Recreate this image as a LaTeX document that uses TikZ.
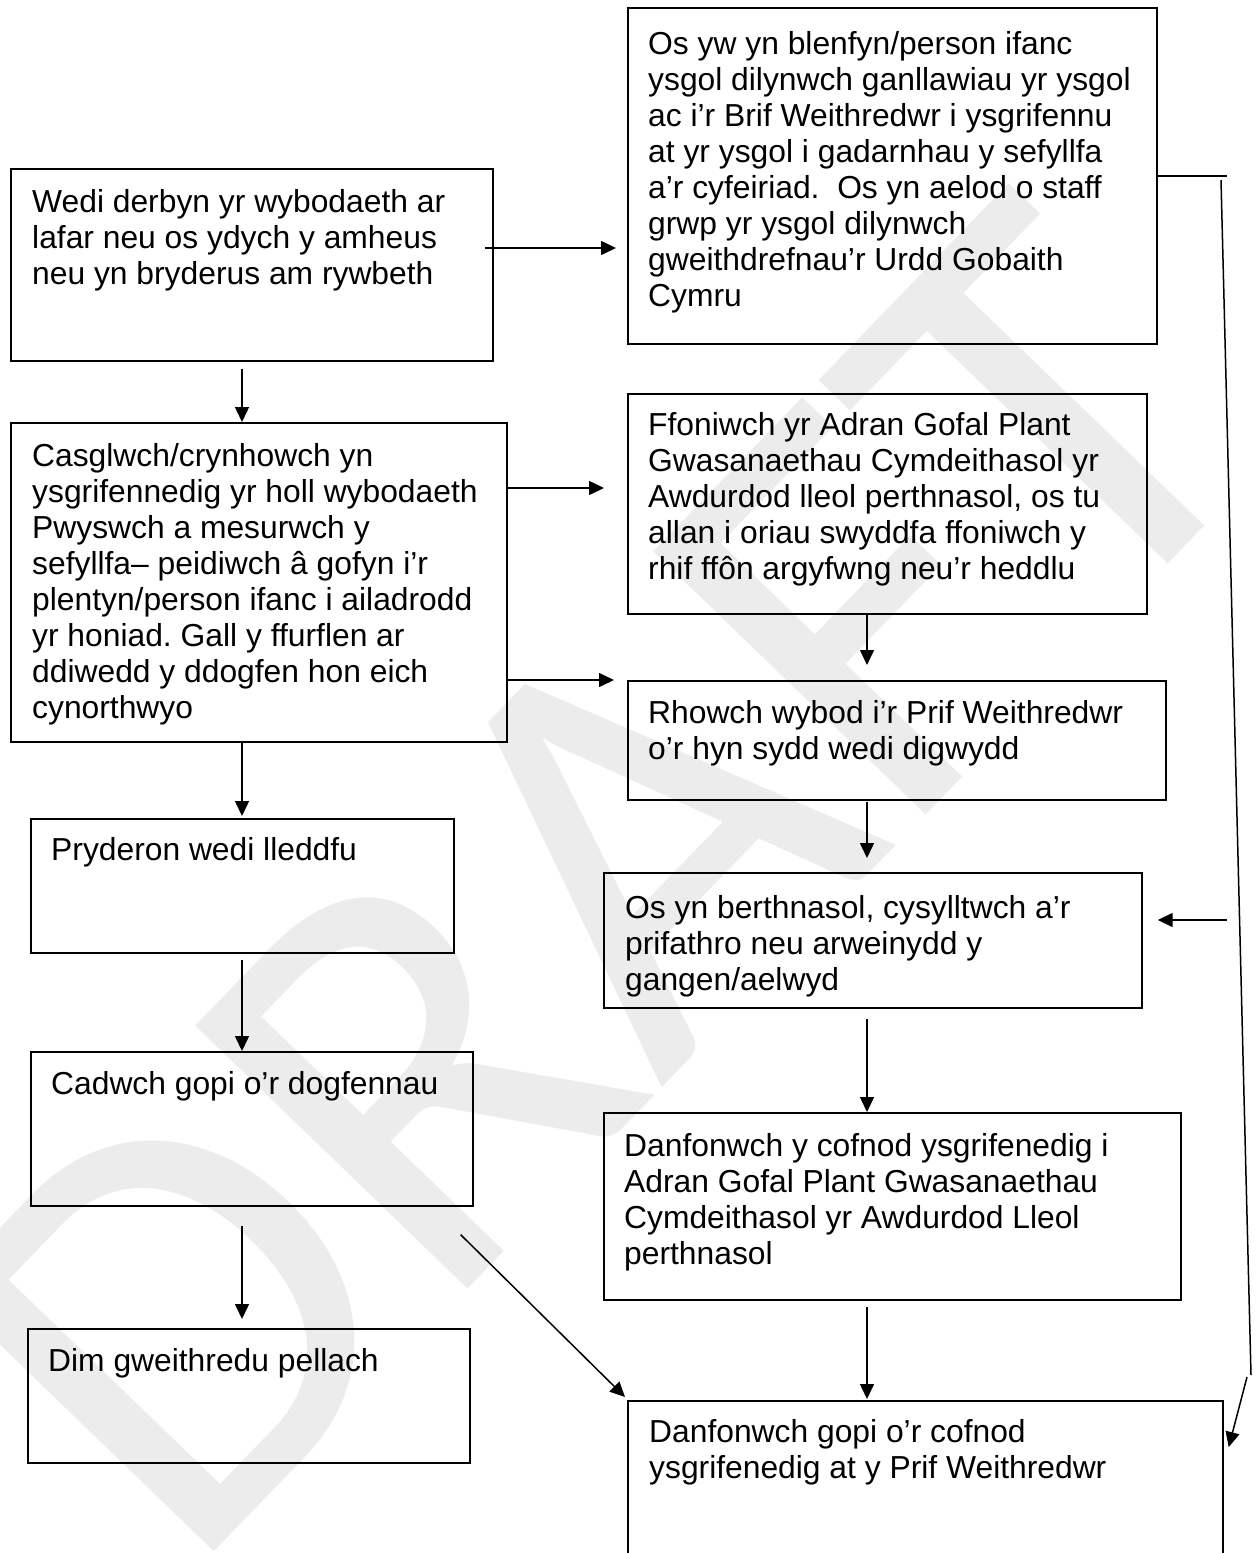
\documentclass[tikz,border=0pt]{standalone}
\usepackage{fontspec}
\setmainfont{Liberation Sans}
\newfontfamily\wmfont{Carlito}
\usetikzlibrary{arrows.meta,calc}
\frenchspacing
\begin{document}
\begin{tikzpicture}[x=1pt,y=-1pt,
  box/.style={draw=black,line width=1.7pt,anchor=north west,inner sep=0pt},
  txt/.style={anchor=base west,inner sep=0pt,font=\fontsize{31.8}{36}\selectfont},
  arr/.style={line width=1.5pt,-{Triangle[length=15pt,width=14pt]}},
  ln/.style={line width=1.5pt}]
\useasboundingbox (0,0) rectangle (1256,1553);
\clip (0,0) rectangle (1256,1553);
\fill[white] (0,0) rectangle (1256,1553);
% watermark
\node[rotate=46, text=gray!15, inner sep=0pt, font=\wmfont\fontsize{590}{590}\selectfont] (wm) at (600,880) {DRAFT};
% boxes
\node[box, minimum width=482pt, minimum height=192pt] (A) at (10,168) {};
\node[box, minimum width=529pt, minimum height=336pt] (B) at (627,7) {};
\node[box, minimum width=496pt, minimum height=319pt] (C) at (10,422) {};
\node[box, minimum width=519pt, minimum height=220pt] (D) at (627,393) {};
\node[box, minimum width=538pt, minimum height=119pt] (E) at (627,680) {};
\node[box, minimum width=423pt, minimum height=134pt] (F) at (30,818) {};
\node[box, minimum width=538pt, minimum height=135pt] (G) at (603,872) {};
\node[box, minimum width=442pt, minimum height=154pt] (H) at (30,1051) {};
\node[box, minimum width=577pt, minimum height=187pt] (I) at (603,1112) {};
\node[box, minimum width=442pt, minimum height=134pt] (J) at (27,1328) {};
\node[box, minimum width=595pt, minimum height=220pt] (K) at (627,1400) {};
% texts
\node[txt] (At) at (32,212) {\parbox[t]{600pt}{Wedi derbyn yr wybodaeth ar\\lafar neu os ydych y amheus\\neu yn bryderus am rywbeth}};
\node[txt] (Bt) at (648,54) {\parbox[t]{600pt}{Os yw yn blenfyn/person ifanc\\ysgol dilynwch ganllawiau yr ysgol\\ac i’r Brif Weithredwr i ysgrifennu\\at yr ysgol i gadarnhau y sefyllfa\\a’r cyfeiriad.\ \ Os yn aelod o staff\\grwp yr ysgol dilynwch\\gweithdrefnau’r Urdd Gobaith\\Cymru}};
\node[txt] (Ct) at (32,466) {\parbox[t]{600pt}{Casglwch/crynhowch yn\\ysgrifennedig yr holl wybodaeth\\Pwyswch a mesurwch y\\sefyllfa– peidiwch â gofyn i’r\\plentyn/person ifanc i ailadrodd\\yr honiad. Gall y ffurflen ar\\ddiwedd y ddogfen hon eich\\cynorthwyo}};
\node[txt] (Dt) at (648,435) {\parbox[t]{600pt}{Ffoniwch yr Adran Gofal Plant\\Gwasanaethau Cymdeithasol yr\\Awdurdod lleol perthnasol, os tu\\allan i oriau swyddfa ffoniwch y\\rhif ffôn argyfwng neu’r heddlu}};
\node[txt] (Et) at (648,723) {\parbox[t]{600pt}{Rhowch wybod i’r Prif Weithredwr\\o’r hyn sydd wedi digwydd}};
\node[txt] (Ft) at (51,860) {Pryderon wedi lleddfu};
\node[txt] (Gt) at (625,918) {\parbox[t]{600pt}{Os yn berthnasol, cysylltwch a’r\\prifathro neu arweinydd y\\gangen/aelwyd}};
\node[txt] (Ht) at (51,1094) {Cadwch gopi o’r dogfennau};
\node[txt] (It) at (624,1156) {\parbox[t]{600pt}{Danfonwch y cofnod ysgrifenedig i\\Adran Gofal Plant Gwasanaethau\\Cymdeithasol yr Awdurdod Lleol\\perthnasol}};
\node[txt] (Jt) at (48,1371) {Dim gweithredu pellach};
\node[txt] (Kt) at (649,1442) {\parbox[t]{600pt}{Danfonwch gopi o’r cofnod\\ysgrifenedig at y Prif Weithredwr}};
% connectors
\draw[arr] ($(A.north east)+(-9,80)$) -- ($(B.north west)+(-11,241)$);
\draw[arr] ($(A.south west)+(232,7)$) -- ($(C.north west)+(232,0)$);
\draw[arr] ($(C.north east)+(0,66)$) -- ($(D.north west)+(-23,95)$);
\draw[arr] ($(C.north east)+(0,258)$) -- ($(E.north west)+(-13,0)$);
\draw[arr] ($(C.south west)+(232,0)$) -- ($(F.north west)+(212,-2)$);
\draw[arr] ($(D.south west)+(240,0)$) -- ($(E.north west)+(240,-15)$);
\draw[arr] ($(E.south west)+(240,1)$) -- ($(G.north west)+(264,-14)$);
\draw[arr] ($(G.south west)+(264,10)$) -- ($(I.north west)+(264,0)$);
\draw[arr] ($(I.south west)+(264,6)$) -- ($(K.north west)+(240,-1)$);
\draw[arr] ($(F.south west)+(212,6)$) -- ($(H.north west)+(212,0)$);
\draw[arr] ($(H.south west)+(212,19)$) -- ($(J.north west)+(215,-9)$);
\draw[arr] ($(H.south east)+(-13,28)$) -- ($(K.north west)+(-2,-3)$);
\coordinate (r1) at (1227,176);
\coordinate (r2) at (1221,180);
\coordinate (r3) at (1251,1375);
\coordinate (r4) at (1227,920);
\coordinate (r5) at (1247,1377);
\draw[ln] ($(B.north east)+(0,169)$) -- (r1);
\draw[ln] (r2) -- (r3);
\draw[arr] (r4) -- ($(G.north east)+(15,48)$);
\draw[arr] (r5) -- ($(K.north east)+(5,47)$);
\end{tikzpicture}
\end{document}
